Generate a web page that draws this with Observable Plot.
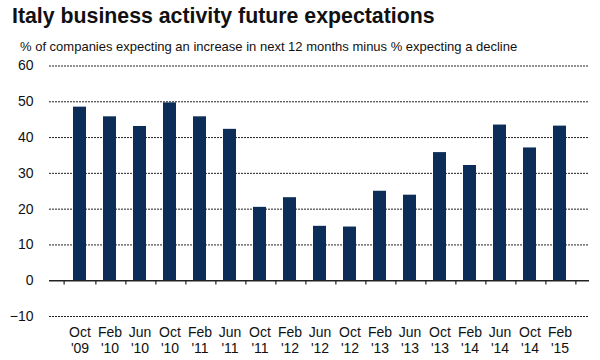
<!DOCTYPE html>
<html>
<head>
<meta charset="utf-8">
<script src="https://cdn.jsdelivr.net/npm/d3@7"></script>
<script src="https://cdn.jsdelivr.net/npm/@observablehq/plot@0.6"></script>
<style>
  html, body { margin: 0; padding: 0; background: #fff; }
  body { width: 600px; height: 360px; position: relative; overflow: hidden; font-family: "Liberation Sans", Arial, sans-serif; color: #111; }
  #title { position: absolute; left: 12px; top: 2px; font-size: 21.3px; font-weight: bold; line-height: 28px; white-space: nowrap; }
  #subtitle { position: absolute; left: 20px; top: 38px; font-size: 13px; line-height: 18px; white-space: nowrap; }
  #chart { position: absolute; left: 0; top: 56px; }
</style>
</head>
<body>
<div id="title">Italy business activity future expectations</div>
<div id="subtitle">% of companies expecting an increase in next 12 months minus % expecting a decline</div>
<div id="chart"></div>
<script>
const months = ["Oct","Feb","Jun","Oct","Feb","Jun","Oct","Feb","Jun","Oct","Feb","Jun","Oct","Feb","Jun","Oct","Feb"];
const years  = ["'09","'10","'10","'10","'11","'11","'11","'12","'12","'12","'13","'13","'13","'14","'14","'14","'15"];
const values = [48.5, 45.8, 43.1, 49.7, 45.8, 42.3, 20.5, 23.2, 15.2, 15.0, 25.0, 23.9, 35.8, 32.2, 43.5, 37.1, 43.2];
const yTicks = [-10, 0, 10, 20, 30, 40, 50, 60];
const gridValues = [-10, 10, 20, 30, 40, 50, 60];

const data = months.map((m, i) => ({label: m + "\n" + years[i], value: values[i]}));
const labels = data.map(d => d.label);

const W = 600, H = 304, mL = 49, mR = 11;
const half = (W - mL - mR) / labels.length / 2;

const plot = Plot.plot({
  width: W,
  height: H,
  marginLeft: mL,
  marginRight: mR,
  marginTop: 9.5,
  marginBottom: 44,
  style: {fontFamily: "'Liberation Sans', Arial, sans-serif", fontSize: "14px", color: "#111", background: "#fff"},
  x: {domain: labels, padding: 0.58, label: null},
  y: {domain: [-10, 60], label: null},
  marks: [
    Plot.ruleY(gridValues, {stroke: "#222", strokeWidth: 1, strokeDasharray: "2,1"}),
    Plot.barY(data, {x: "label", y: "value", fill: "#0c2d58"}),
    Plot.ruleY([0], {stroke: "#222", strokeWidth: 1.5}),
    Plot.ruleX(labels, {x: d => d, y1: 0, y2: -1.2, dx: half, stroke: "#222", strokeWidth: 1.2}),
    Plot.ruleX(labels.slice(0, 1), {x: d => d, y1: 0, y2: -1.2, dx: -half, stroke: "#222", strokeWidth: 1.2}),
    Plot.axisY(yTicks, {tickSize: 0, tickPadding: 16, fontSize: 14, fill: "#111"}),
    Plot.axisX({tickSize: 0, tickPadding: 10, fontSize: 14, lineHeight: 1.1, fill: "#111"})
  ]
});
document.getElementById("chart").appendChild(plot);
</script>
</body>
</html>
